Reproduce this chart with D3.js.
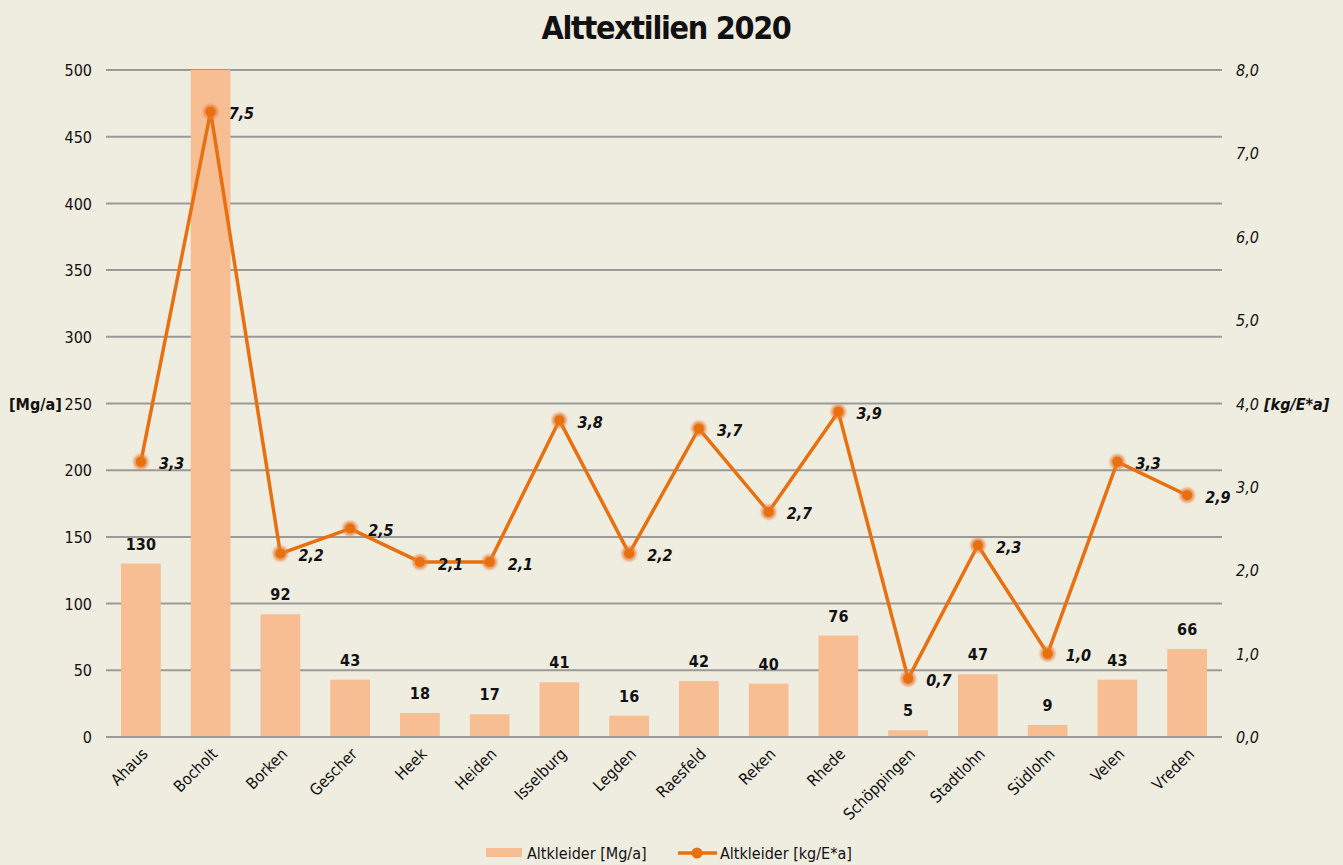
<!DOCTYPE html>
<html>
<head>
<meta charset="utf-8">
<script src="https://cdn.jsdelivr.net/npm/d3@7"></script>
<style>
  html, body { margin: 0; padding: 0; background: #EFECE0; }
  svg { display: block; }
  text { font-family: "DejaVu Sans Condensed", "DejaVu Sans", sans-serif; font-stretch: condensed; fill: #111; }
</style>
</head>
<body>
<svg id="chart" width="1343" height="865"></svg>
<script>
// Municipalities
const categories = ["Ahaus", "Bocholt", "Borken", "Gescher", "Heek", "Heiden", "Isselburg", "Legden",
  "Raesfeld", "Reken", "Rhede", "Schöppingen", "Stadtlohn", "Südlohn", "Velen", "Vreden"];
// Collected used clothing, total [Mg/a] (Bocholt exceeds the axis and carries no label)
const massValues = [130, 500, 92, 43, 18, 17, 41, 16, 42, 40, 76, 5, 47, 9, 43, 66];
const massLabelled = [true, false, true, true, true, true, true, true, true, true, true, true, true, true, true, true];
// Collected used clothing per inhabitant [kg/E*a]
const perCapita = [3.3, 7.5, 2.2, 2.5, 2.1, 2.1, 3.8, 2.2, 3.7, 2.7, 3.9, 0.7, 2.3, 1.0, 3.3, 2.9];
// Axis ticks
const leftTicks = [0, 50, 100, 150, 200, 250, 300, 350, 400, 450, 500];
const rightTicks = [0, 1, 2, 3, 4, 5, 6, 7, 8];

const svg = d3.select("#chart");
const plot = { left: 106, right: 1222, top: 70, bottom: 737 };

const x = d3.scaleBand().domain(categories).range([plot.left, plot.right]).paddingInner(0.43).paddingOuter(0.215);
const yL = d3.scaleLinear().domain([0, 500]).range([plot.bottom, plot.top]);
const yR = d3.scaleLinear().domain([0, 8]).range([plot.bottom, plot.top]);
const cx = d => x(d) + x.bandwidth() / 2;
const fmt = v => d3.format(".1f")(v).replace(".", ",");

const barColor = "#F8BE93";
const lineColor = "#E8700F";
const fs = 16;

// Title
svg.append("text").attr("x", 666).attr("y", 39).attr("text-anchor", "middle")
  .attr("font-size", 32).attr("font-weight", "bold").attr("letter-spacing", "-1.3")
  .text("Alttextilien 2020");

// Gridlines
svg.append("g").selectAll("line").data(leftTicks).join("line")
  .attr("x1", plot.left).attr("x2", plot.right)
  .attr("y1", d => yL(d)).attr("y2", d => yL(d))
  .attr("stroke", "#9A9A98").attr("stroke-width", 2);

// Left axis
const gL = svg.append("g").attr("transform", `translate(${plot.left - 14},0)`)
  .call(d3.axisLeft(yL).tickValues(leftTicks).tickSize(0).tickPadding(0));
gL.select(".domain").remove();
gL.selectAll("text").attr("font-size", fs).attr("dy", "0.35em").style("font-family", null);

// Right axis
const gR = svg.append("g").attr("transform", `translate(${plot.right + 14},0)`)
  .call(d3.axisRight(yR).tickValues(rightTicks).tickSize(0).tickPadding(0).tickFormat(fmt));
gR.select(".domain").remove();
gR.selectAll("text").attr("font-size", fs).attr("font-style", "italic").attr("dy", "0.35em").style("font-family", null);

// Axis titles
svg.append("text").attr("x", 9).attr("y", 404).attr("dy", "0.35em")
  .attr("font-size", fs).attr("font-weight", "bold").text("[Mg/a]");
svg.append("text").attr("x", 1264).attr("y", 404).attr("dy", "0.35em")
  .attr("font-size", fs).attr("font-weight", "bold").attr("font-style", "italic").text("[kg/E*a]");

// Bars
svg.append("g").selectAll("rect").data(categories).join("rect")
  .attr("x", d => x(d)).attr("width", x.bandwidth())
  .attr("y", (d, i) => yL(massValues[i]))
  .attr("height", (d, i) => plot.bottom - yL(massValues[i]))
  .attr("fill", barColor);

// Bar value labels
svg.append("g").selectAll("text").data(categories.filter((d, i) => massLabelled[i])).join("text")
  .attr("x", d => cx(d))
  .attr("y", d => yL(massValues[categories.indexOf(d)]) - 14)
  .attr("text-anchor", "middle").attr("font-size", fs).attr("font-weight", "bold")
  .text(d => massValues[categories.indexOf(d)]);

// Baseline
svg.append("line").attr("x1", plot.left).attr("x2", plot.right)
  .attr("y1", plot.bottom).attr("y2", plot.bottom)
  .attr("stroke", "#9A9A98").attr("stroke-width", 2);

// Category labels
svg.append("g").selectAll("text").data(categories).join("text")
  .attr("transform", d => `translate(${cx(d) + 4},${plot.bottom + 14}) rotate(-45)`)
  .attr("text-anchor", "end").attr("dy", "0.35em").attr("font-size", fs)
  .text(d => d);

// Soft marker glow
const defs = svg.append("defs");
const f = defs.append("filter").attr("id", "soft").attr("x", "-50%").attr("y", "-50%").attr("width", "200%").attr("height", "200%");
f.append("feGaussianBlur").attr("stdDeviation", 1.2);

// Per-capita line
const line = d3.line().x((d, i) => cx(categories[i])).y(d => yR(d));
svg.append("path").datum(perCapita).attr("d", line)
  .attr("fill", "none").attr("stroke", lineColor).attr("stroke-width", 3.5).attr("stroke-linejoin", "round");

svg.append("g").selectAll("circle").data(perCapita).join("circle")
  .attr("cx", (d, i) => cx(categories[i])).attr("cy", d => yR(d))
  .attr("r", 7.5).attr("fill", "#E8803A").attr("opacity", 0.75).attr("filter", "url(#soft)");
svg.append("g").selectAll("circle").data(perCapita).join("circle")
  .attr("cx", (d, i) => cx(categories[i])).attr("cy", d => yR(d))
  .attr("r", 5).attr("fill", lineColor);

// Per-capita labels
svg.append("g").selectAll("text").data(perCapita).join("text")
  .attr("x", (d, i) => cx(categories[i]) + 18).attr("y", d => yR(d) + 2)
  .attr("dy", "0.35em").attr("font-size", fs).attr("font-weight", "bold").attr("font-style", "italic")
  .text(d => fmt(d));

// Legend
const lg = svg.append("g");
lg.append("rect").attr("x", 486).attr("y", 848).attr("width", 36).attr("height", 9).attr("fill", barColor);
lg.append("text").attr("x", 527).attr("y", 853).attr("dy", "0.35em").attr("font-size", fs).text("Altkleider [Mg/a]");
lg.append("line").attr("x1", 678).attr("x2", 717).attr("y1", 853).attr("y2", 853)
  .attr("stroke", lineColor).attr("stroke-width", 3.5);
lg.append("circle").attr("cx", 697).attr("cy", 853).attr("r", 5.5).attr("fill", lineColor);
lg.append("text").attr("x", 720).attr("y", 853).attr("dy", "0.35em").attr("font-size", fs).text("Altkleider [kg/E*a]");
</script>
</body>
</html>
